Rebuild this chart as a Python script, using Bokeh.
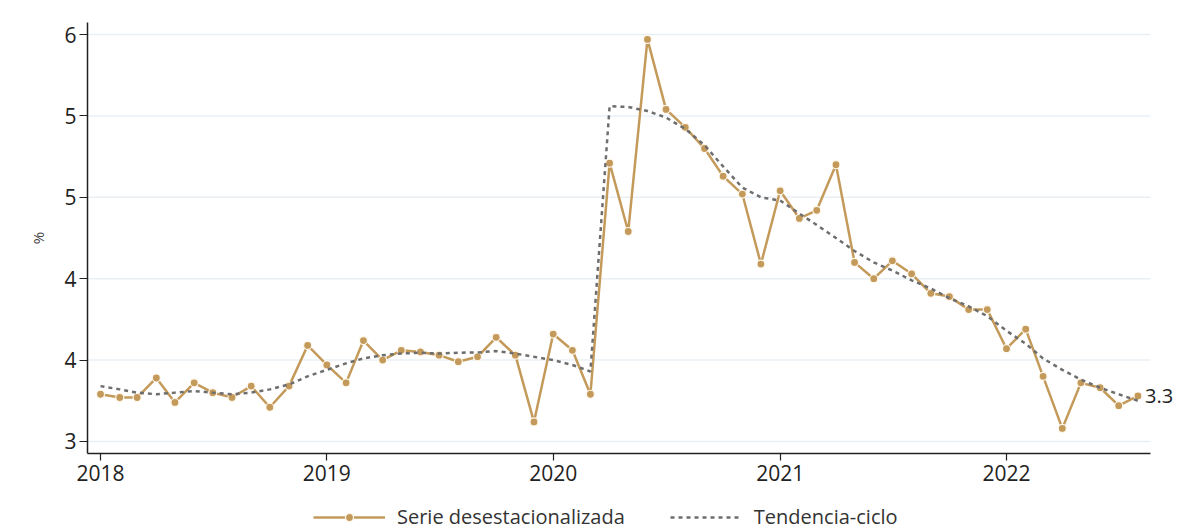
import pandas as pd
from bokeh.plotting import figure
from bokeh.layouts import column
from bokeh.models import (ColumnDataSource, FixedTicker, DatetimeTickFormatter, Legend,
                          LegendItem, Range1d, Label)
from bokeh.embed import file_html
from bokeh.resources import INLINE

# ---- data ----
months = pd.date_range("2018-01-01", "2022-08-01", freq="MS")
serie = [3.29, 3.27, 3.27, 3.39, 3.24, 3.36, 3.30, 3.27, 3.34, 3.21, 3.34, 3.59,
         3.47, 3.36, 3.62, 3.50, 3.56, 3.55, 3.53, 3.49, 3.52, 3.64, 3.53, 3.12,
         3.66, 3.56, 3.29, 4.71, 4.29, 5.47, 5.04, 4.93, 4.80, 4.63, 4.52, 4.09,
         4.54, 4.37, 4.42, 4.70, 4.10, 4.00, 4.11, 4.03, 3.91, 3.89, 3.81, 3.81,
         3.57, 3.69, 3.40, 3.08, 3.36, 3.33, 3.22, 3.28]
tendencia = [3.34, 3.32, 3.30, 3.29, 3.30, 3.31, 3.30, 3.29, 3.30, 3.32, 3.35, 3.40,
             3.44, 3.48, 3.51, 3.53, 3.54, 3.545, 3.54, 3.545, 3.547, 3.555, 3.54, 3.52,
             3.50, 3.47, 3.43, 5.06, 5.055, 5.03, 4.99, 4.92, 4.82, 4.69, 4.56, 4.50,
             4.48, 4.40, 4.33, 4.25, 4.17, 4.10, 4.05, 3.99, 3.94, 3.88, 3.83, 3.77,
             3.68, 3.60, 3.51, 3.44, 3.38, 3.33, 3.29, 3.25]
year_ticks = ["2018", "2019", "2020", "2021", "2022"]
y_ticks = [3, 3.5, 4, 4.5, 5, 5.5]
y_labels = ["3", "4", "4", "5", "5", "6"]
end_label = "3.3"
series_names = ["Serie desestacionalizada", "Tendencia-ciclo"]

FONT = "Open Sans"
GOLD = "#C49A5A"
GRAY = "#6E6E6E"

x_start = pd.Timestamp("2017-12-11")
axis_end = pd.Timestamp("2022-08-21")
x_end = pd.Timestamp("2022-10-07")

src = ColumnDataSource(dict(x=months, s=serie, t=tendencia))

p = figure(width=1179, height=503, x_axis_type="datetime", output_backend="svg",
           toolbar_location=None,
           x_range=Range1d(x_start, x_end), y_range=Range1d(2.926, 5.574),
           min_border_left=87, min_border_right=0, min_border_top=22, min_border_bottom=50)
p.outline_line_color = None
p.background_fill_color = "white"
p.xgrid.grid_line_color = None
p.ygrid.grid_line_color = None

# horizontal grid lines limited to the axis extent
p.segment(x0=[x_start] * len(y_ticks), x1=[axis_end] * len(y_ticks), y0=y_ticks, y1=y_ticks,
          line_color="#E8F0F5", line_width=1.5)

tick_ms = [pd.Timestamp(f"{y}-01-01").value // 10**6 for y in year_ticks]
p.xaxis.ticker = FixedTicker(ticks=tick_ms)
p.xaxis.formatter = DatetimeTickFormatter(years="%Y", months="%Y", days="%Y")
p.xaxis.bounds = (x_start, axis_end)
p.yaxis.ticker = FixedTicker(ticks=y_ticks)
p.yaxis.major_label_overrides = {v: l for v, l in zip(y_ticks, y_labels)}

for ax in (p.xaxis[0], p.yaxis[0]):
    ax.axis_line_color = "#222222"
    ax.axis_line_width = 1.5
    ax.major_tick_line_color = "#222222"
    ax.major_tick_line_width = 1.2
    ax.minor_tick_line_color = None
    ax.major_tick_in = 0
    ax.major_label_text_font = FONT
    ax.major_label_text_font_size = "21px"
    ax.major_label_text_color = "#222222"
p.xaxis.major_tick_out = 7
p.yaxis.major_tick_out = 8
p.yaxis.major_label_standoff = 3
p.xaxis.major_label_standoff = 4
p.yaxis.axis_label = "%"
p.yaxis.axis_label_text_font = FONT
p.yaxis.axis_label_text_font_style = "normal"
p.yaxis.axis_label_text_font_size = "15px"
p.yaxis.axis_label_text_color = "#444444"
p.yaxis.axis_label_standoff = 13

p.line("x", "s", source=src, line_color=GOLD, line_width=2.5)
p.scatter("x", "s", source=src, size=8, fill_color=GOLD, line_color="#FFF8EE", line_width=1.2)
p.line("x", "t", source=src, line_color=GRAY, line_width=2.5, line_dash="4 4")

p.add_layout(Label(x=months[-1], y=serie[-1], text=end_label, x_offset=7,
                   text_baseline="middle", text_font=FONT, text_font_size="20px",
                   text_color="#222222"))

# legend strip below the chart
lg = figure(width=1179, height=28, output_backend="svg", toolbar_location=None,
            x_range=Range1d(0, 1), y_range=Range1d(0, 1),
            x_axis_location=None, y_axis_location=None,
            min_border_left=0, min_border_right=0, min_border_top=0, min_border_bottom=0)
lg.outline_line_color = None
lg.xgrid.grid_line_color = None
lg.ygrid.grid_line_color = None
lsrc = ColumnDataSource(dict(x=[10.0, 11.0], s=[10.0, 11.0], t=[10.0, 11.0]))
l1 = lg.line("x", "s", source=lsrc, line_color=GOLD, line_width=2.5)
l2 = lg.scatter("x", "s", source=lsrc, size=8, fill_color=GOLD, line_color="#FFF8EE",
                line_width=1.2)
l3 = lg.line("x", "t", source=lsrc, line_color=GRAY, line_width=2.5, line_dash="4 4")
legend = Legend(items=[LegendItem(label=series_names[0], renderers=[l1, l2]),
                       LegendItem(label=series_names[1], renderers=[l3])],
                orientation="horizontal", location=(226, 1),
                label_text_font=FONT, label_text_font_size="20px", label_text_color="#333333",
                glyph_width=72, glyph_height=20, spacing=45, label_standoff=12,
                border_line_color=None, background_fill_alpha=0, margin=0, padding=2)
lg.add_layout(legend)

layout = column(p, lg, spacing=0)
open("out.html", "w").write(file_html(layout, INLINE))
